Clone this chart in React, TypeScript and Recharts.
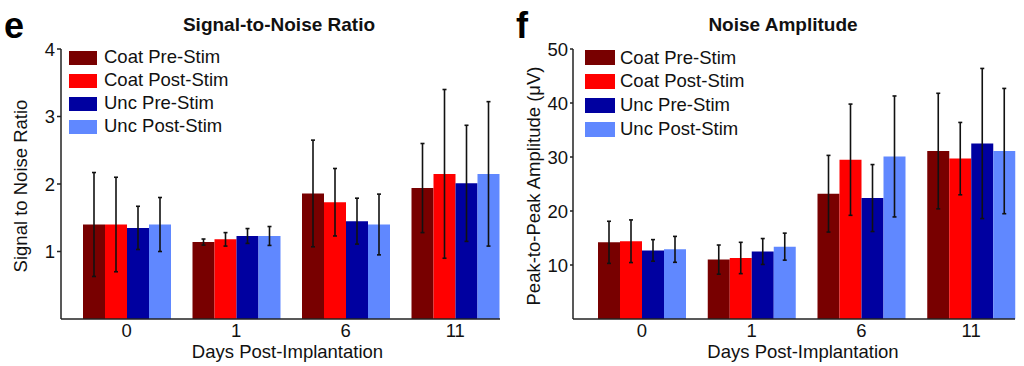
import React from 'react';
import { BarChart, Bar, XAxis, YAxis, ErrorBar, Legend } from 'recharts';

const days = ['0', '1', '6', '11'];

const seriesNames = ['Coat Pre-Stim', 'Coat Post-Stim', 'Unc Pre-Stim', 'Unc Post-Stim'];
const seriesColors = ['#780000', '#ff0000', '#0000a0', '#6088ff'];

// Signal-to-noise ratio (mean, error)
const snrCoatPre = [1.40, 1.14, 1.86, 1.94];
const snrCoatPost = [1.40, 1.18, 1.73, 2.15];
const snrUncPre = [1.35, 1.23, 1.45, 2.01];
const snrUncPost = [1.40, 1.23, 1.40, 2.15];
const snrErrCoatPre = [0.77, 0.045, 0.79, 0.66];
const snrErrCoatPost = [0.70, 0.10, 0.50, 1.25];
const snrErrUncPre = [0.32, 0.11, 0.34, 0.86];
const snrErrUncPost = [0.40, 0.14, 0.45, 1.07];
const snrTicks = [1, 2, 3, 4];

// Noise amplitude in uV (mean, error)
const ampCoatPre = [14.2, 11.0, 23.2, 31.1];
const ampCoatPost = [14.4, 11.3, 29.5, 29.7];
const ampUncPre = [12.7, 12.5, 22.4, 32.5];
const ampUncPost = [12.9, 13.4, 30.1, 31.1];
const ampErrCoatPre = [3.9, 2.7, 7.1, 10.7];
const ampErrCoatPost = [3.95, 2.9, 10.3, 6.7];
const ampErrUncPre = [2.0, 2.4, 6.2, 13.9];
const ampErrUncPost = [2.4, 2.5, 11.2, 11.6];
const ampTicks = [10, 20, 30, 40, 50];

const FONT = '"Liberation Sans", Arial, Helvetica, sans-serif';
const INK = '#111';

const buildRows = (vals: number[][], errs: number[][]) =>
  days.map((d, i) => ({
    day: d,
    s0: vals[0][i], e0: errs[0][i],
    s1: vals[1][i], e1: errs[1][i],
    s2: vals[2][i], e2: errs[2][i],
    s3: vals[3][i], e3: errs[3][i],
  }));

const snrRows = buildRows(
  [snrCoatPre, snrCoatPost, snrUncPre, snrUncPost],
  [snrErrCoatPre, snrErrCoatPost, snrErrUncPre, snrErrUncPost]
);
const ampRows = buildRows(
  [ampCoatPre, ampCoatPost, ampUncPre, ampUncPost],
  [ampErrCoatPre, ampErrCoatPost, ampErrUncPre, ampErrUncPost]
);

function LegendBox({ swW, swH, gap, rowH }: { swW: number; swH: number; gap: number; rowH: number }) {
  return (
    <div>
      {seriesNames.map((name, i) => (
        <div key={name} style={{ display: 'flex', alignItems: 'center', height: rowH }}>
          <span style={{ display: 'inline-block', width: swW, height: swH, background: seriesColors[i], marginRight: gap }} />
          <span style={{ fontSize: 18.5, color: INK, whiteSpace: 'nowrap', lineHeight: 1 }}>{name}</span>
        </div>
      ))}
    </div>
  );
}

interface PanelProps {
  left: number;
  letter: string;
  title: string;
  titleX: number;
  yLabel: string;
  yLabelX: number;
  rows: any[];
  domain: [number, number];
  ticks: number[];
  padL: number;
  padR: number;
  marginRight: number;
  tickSize: number;
  xLabelDx: number;
  legendX: number;
  swW: number;
  swH: number;
  swGap: number;
  rowH: number;
}

function Panel(p: PanelProps) {
  return (
    <div style={{ position: 'absolute', left: p.left, top: 0, width: 512, height: 366 }}>
      <div style={{ position: 'absolute', left: 4, top: 8, fontSize: 36, fontWeight: 'bold', lineHeight: 1, color: '#000' }}>
        {p.letter}
      </div>
      <div style={{ position: 'absolute', left: p.titleX, top: 25, transform: 'translate(-50%, -50%)', fontSize: 19, fontWeight: 'bold', whiteSpace: 'nowrap', color: INK }}>
        {p.title}
      </div>
      <div style={{ position: 'absolute', left: p.yLabelX, top: 186, transform: 'translate(-50%, -50%) rotate(-90deg)', fontSize: 18.5, whiteSpace: 'nowrap', color: INK }}>
        {p.yLabel}
      </div>
      <BarChart
        width={512}
        height={366}
        data={p.rows}
        margin={{ top: 49, right: p.marginRight, bottom: 2, left: 21 }}
        barGap={0}
        barSize={22}
        style={{ position: 'absolute', left: 0, top: 0 }}
      >
        <XAxis
          dataKey="day"
          height={45}
          padding={{ left: p.padL, right: p.padR }}
          tickLine={false}
          tickSize={3}
          tickMargin={2}
          interval={0}
          axisLine={{ stroke: '#222', strokeWidth: 1.5 }}
          tick={{ fill: INK, fontSize: 18.5 }}
          label={{ value: 'Days Post-Implantation', position: 'insideBottom', offset: 6, fontSize: 18.5, fill: INK, dx: p.xLabelDx }}
        />
        <YAxis
          width={40}
          domain={p.domain}
          ticks={p.ticks}
          interval={0}
          tickSize={p.tickSize}
          tickMargin={2}
          axisLine={{ stroke: '#222', strokeWidth: 1.5 }}
          tickLine={{ stroke: '#222', strokeWidth: 1.5 }}
          tick={{ fill: INK, fontSize: 18.5 }}
        />
        <Legend
          layout="vertical"
          align="center"
          verticalAlign="middle"
          wrapperStyle={{ left: p.legendX, top: 46, width: 'auto' }}
          content={() => <LegendBox swW={p.swW} swH={p.swH} gap={p.swGap} rowH={p.rowH} />}
        />
        {seriesNames.map((name, i) => (
          <Bar key={name} dataKey={`s${i}`} name={name} fill={seriesColors[i]} isAnimationActive={false}>
            <ErrorBar dataKey={`e${i}`} width={2} stroke="#111" strokeWidth={1.6} direction="y" />
          </Bar>
        ))}
      </BarChart>
    </div>
  );
}

export default function App() {
  return (
    <div style={{ position: 'absolute', left: 0, top: 0, width: 1024, height: 366, background: '#fff', fontFamily: FONT, overflow: 'hidden' }}>
      <Panel
        left={0}
        letter="e"
        title="Signal-to-Noise Ratio"
        titleX={279}
        yLabel="Signal to Noise Ratio"
        yLabelX={21}
        rows={snrRows}
        domain={[0, 4]}
        ticks={snrTicks}
        padL={11}
        padR={-10}
        marginRight={12}
        tickSize={4}
        xLabelDx={7}
        legendX={69}
        swW={28}
        swH={14}
        swGap={7}
        rowH={23}
      />
      <Panel
        left={512}
        letter="f"
        title="Noise Amplitude"
        titleX={271}
        yLabel="Peak-to-Peak Amplitude (μV)"
        yLabelX={22}
        rows={ampRows}
        domain={[0, 50]}
        ticks={ampTicks}
        padL={14}
        padR={-11}
        marginRight={9}
        tickSize={3}
        xLabelDx={9}
        legendX={73}
        swW={30}
        swH={15}
        swGap={5}
        rowH={23.8}
      />
    </div>
  );
}
